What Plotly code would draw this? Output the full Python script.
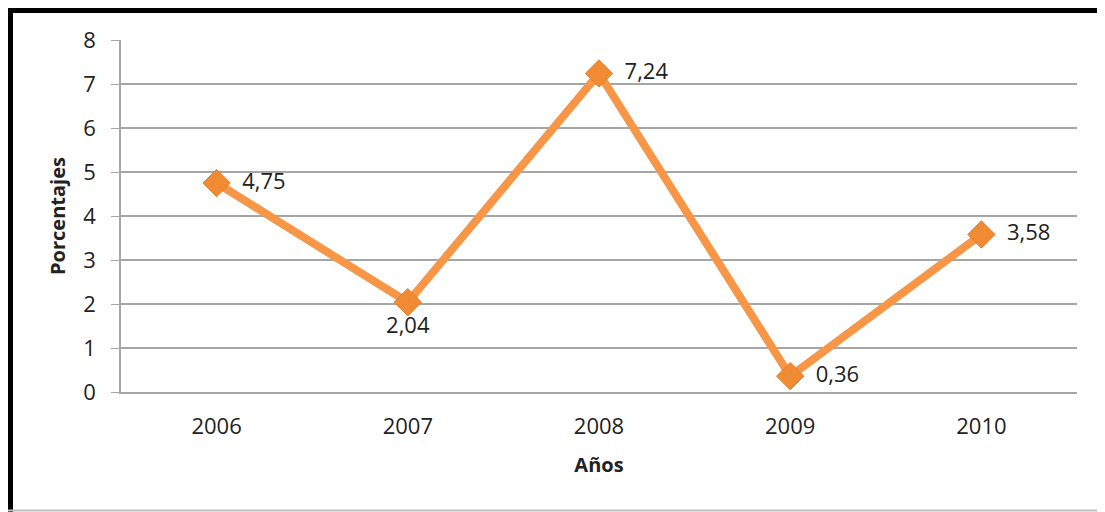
import plotly.graph_objects as go

years = ["2006", "2007", "2008", "2009", "2010"]
values = [4.75, 2.04, 7.24, 0.36, 3.58]
labels = ["4,75", "2,04", "7,24", "0,36", "3,58"]
label_pos = ["middle right", "bottom center", "middle right", "middle right", "middle right"]

# page body has an 8px margin, so the figure is shifted by that much
OFF = 8
W, H = 1105 - OFF, 512 - OFF
L, R, T, B = 121 - OFF, 1077 - OFF, 40 - OFF, 392 - OFF

def px(x):
    return (x - OFF - L) / (R - L)

def py(y):
    return (B - (y - OFF)) / (B - T)

font_family = "Open Sans, Noto Sans, sans-serif"

fig = go.Figure()
fig.add_trace(go.Scatter(
    x=years, y=values, mode="lines+markers+text",
    line=dict(color="#F79646", width=8),
    marker=dict(symbol="diamond", size=21, color="#F08A33",
                line=dict(color="#E57C28", width=1)),
    text=["  " + t if p == "middle right" else t for t, p in zip(labels, label_pos)],
    textposition=label_pos,
    textfont=dict(size=22, color="#222222", family=font_family),
    cliponaxis=False,
    showlegend=False,
))

fig.update_layout(
    width=W, height=H,
    margin=dict(l=L, r=W - R, t=T, b=H - B),
    paper_bgcolor="white", plot_bgcolor="white",
    font=dict(family=font_family, size=22, color="#222222"),
    xaxis=dict(
        type="category", range=[-0.5, 4.5],
        showgrid=False, showline=True, linecolor="#A6A6A6", linewidth=2,
        ticks="", tickfont=dict(size=22), ticklabelstandoff=14,
        title=dict(text="<b>Años</b>", font=dict(size=20), standoff=19),
    ),
    yaxis=dict(
        range=[0, 8], dtick=1,
        showgrid=True, gridcolor="#A6A6A6", gridwidth=1.5,
        showline=True, linecolor="#A6A6A6", linewidth=1.5,
        ticks="outside", ticklen=8, tickcolor="#A6A6A6",
        tickfont=dict(size=22), zeroline=False, ticklabelstandoff=11,
        title=dict(text="<b>Porcentajes</b>", font=dict(size=20), standoff=12),
    ),
)

# outer frame
fig.add_shape(type="line", xref="paper", yref="paper",
              x0=px(10.5), x1=px(10.5), y0=py(8), y1=py(512),
              line=dict(color="black", width=5))
fig.add_shape(type="line", xref="paper", yref="paper",
              x0=px(8), x1=px(1103), y0=py(10.5), y1=py(10.5),
              line=dict(color="black", width=5))
fig.add_shape(type="line", xref="paper", yref="paper",
              x0=px(1101.5), x1=px(1101.5), y0=py(8), y1=py(511),
              line=dict(color="#222222", width=2))
fig.add_shape(type="line", xref="paper", yref="paper",
              x0=px(8), x1=px(1102), y0=py(510.5), y1=py(510.5),
              line=dict(color="#BFBFBF", width=2))

fig.write_html("out.html")
